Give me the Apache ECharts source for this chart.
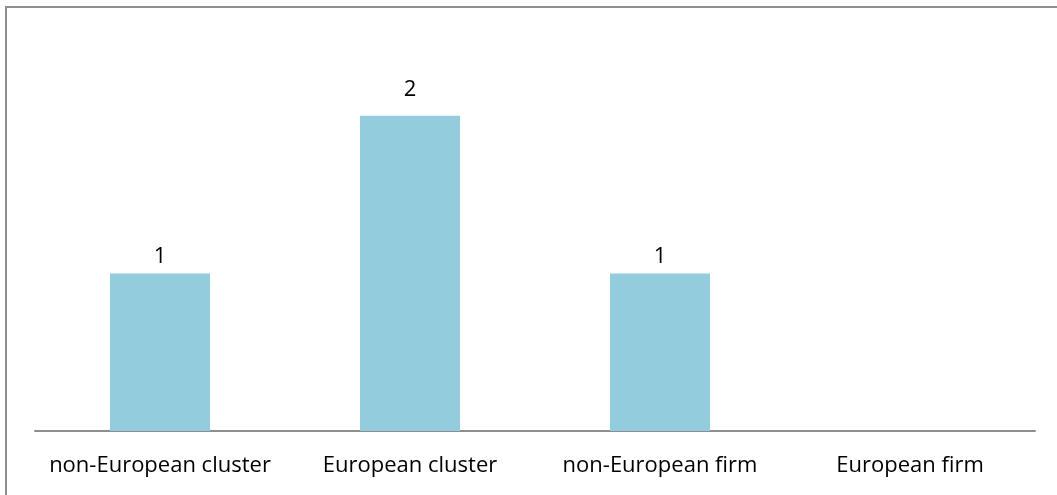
<!DOCTYPE html>
<html>
<head>
<meta charset="utf-8">
<script src="https://cdn.jsdelivr.net/npm/echarts@6/dist/echarts.min.js"></script>
<style>
html,body{margin:0;padding:0;background:#fff;overflow:hidden;width:1057px;height:495px;}
#frame{position:absolute;left:5px;top:6px;width:1060px;height:500px;border-top:2px solid #8e8e8e;border-left:2px solid #8e8e8e;}
#chart{position:absolute;left:0;top:0;width:1057px;height:495px;}
</style>
</head>
<body>
<div id="frame"></div>
<div id="chart"></div>
<script>
const categories = ["non-European cluster", "European cluster", "non-European firm", "European firm"];
const values = [1, 2, 1, null];

const chart = echarts.init(document.getElementById('chart'), null, {renderer: 'canvas'});
const labelDistances = [6, 15, 6, 6];
chart.setOption({
  animation: false,
  backgroundColor: 'transparent',
  grid: {left: 35, right: 22, top: 37, bottom: 64, containLabel: false},
  xAxis: {
    type: 'category',
    data: categories,
    axisLine: {show: true, lineStyle: {color: '#8e8e8e', width: 2}},
    axisTick: {show: false},
    axisLabel: {color: '#000', fontFamily: 'Open Sans', fontSize: 22, margin: 24, interval: 0}
  },
  yAxis: {
    type: 'value', min: 0, max: 2.5,
    show: false,
    splitLine: {show: false}
  },
  series: [{
    type: 'bar',
    barWidth: '40%',
    data: values.map((v, i) => ({value: v, label: {distance: labelDistances[i]}})),
    itemStyle: {color: '#93cddd'},
    label: {show: true, position: 'top', color: '#000', fontFamily: 'Open Sans', fontSize: 22}
  }]
});
</script>
</body>
</html>
